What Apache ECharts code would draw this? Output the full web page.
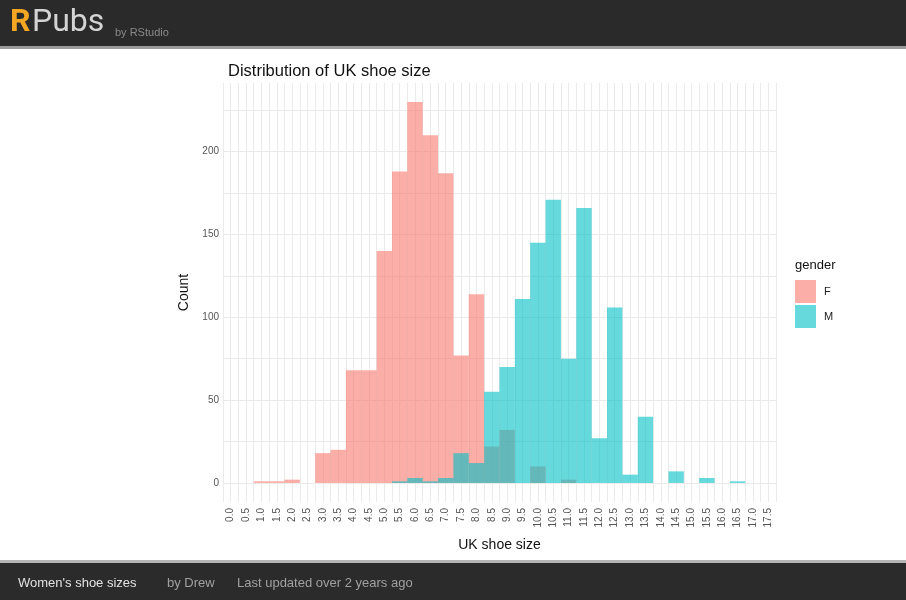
<!DOCTYPE html>
<html>
<head>
<meta charset="utf-8">
<script src="https://cdn.jsdelivr.net/npm/echarts@6/dist/echarts.min.js"></script>
<style>
html,body{margin:0;padding:0;background:#fff;}
#chart{width:906px;height:600px;}
</style>
</head>
<body>
<div id="chart"></div>
<script>
// UK shoe size bins (bin centres, width 0.5)
const categories = ['0.0','0.5','1.0','1.5','2.0','2.5','3.0','3.5','4.0','4.5','5.0','5.5','6.0','6.5','7.0','7.5','8.0','8.5','9.0','9.5','10.0','10.5','11.0','11.5','12.0','12.5','13.0','13.5','14.0','14.5','15.0','15.5','16.0','16.5','17.0','17.5'];
const femaleCounts = [0,0,1,1,2,0,18,20,68,68,140,188,230,210,187,77,114,22,32,0,10,0,2,0,0,0,0,0,0,0,0,0,0,0,0,0];
const maleCounts   = [0,0,0,0,0,0,0,0,0,0,0,1,3,1,3,18,12,55,70,111,145,171,75,166,27,106,5,40,0,7,0,3,0,1,0,0];
const yTickLabels = [0,50,100,150,200];
const yGridValues = [0,25,50,75,100,125,150,175,200,225];
const seriesNames = ['F','M'];

const chart = echarts.init(document.getElementById('chart'), null, {renderer:'canvas'});
const gridColor = '#ebebeb';
const option = {
  backgroundColor:'#ffffff',
  animation:false,
  title:{
    text:'Distribution of UK shoe size',
    left:223, top:58,
    textStyle:{fontFamily:'Liberation Sans', fontSize:16.5, fontWeight:'normal', color:'#111'}
  },
  legend:{
    orient:'vertical', left:790, top:275,
    itemWidth:21, itemHeight:23, itemGap:2,
    icon:'rect',
    data: seriesNames,
    textStyle:{fontFamily:'Liberation Sans', fontSize:11, color:'#222', padding:[0,0,0,3]}
  },
  grid:{left:223, right:130, top:83, bottom:98, containLabel:false},
  xAxis:[
    {
      type:'category', data:categories, boundaryGap:true,
      axisLine:{show:false, onZero:false}, axisTick:{show:false},
      splitLine:{show:false},
      axisLabel:{interval:0, rotate:90, margin:6, fontFamily:'Liberation Sans', fontSize:10, color:'#555'},
      name:'UK shoe size', nameLocation:'middle', nameGap:36,
      nameTextStyle:{fontFamily:'Liberation Sans', fontSize:14, color:'#111'}
    },
    {
      type:'value', min:-0.5, max:35.5, interval:0.5,
      axisLine:{show:false, onZero:false}, axisTick:{show:false}, axisLabel:{show:false},
      splitLine:{show:true, lineStyle:{color:gridColor, width:1}}
    }
  ],
  yAxis:{
    type:'value', min:-11.5, max:241.5,
    axisLine:{show:false, onZero:false},
    axisTick:{show:false, customValues:yGridValues},
    axisLabel:{customValues:yTickLabels, margin:4, fontFamily:'Liberation Sans', fontSize:10, color:'#555'},
    splitLine:{show:true, lineStyle:{color:gridColor, width:1}},
    name:'Count', nameLocation:'middle', nameGap:24, nameRotate:90,
    nameTextStyle:{fontFamily:'Liberation Sans', fontSize:14, color:'#111'}
  },
  series:[
    {
      name:'F', type:'bar', xAxisIndex:0, data:femaleCounts,
      barWidth:'100%', barGap:'-100%', barCategoryGap:0,
      itemStyle:{color:'rgba(248,118,109,0.6)'}
    },
    {
      name:'M', type:'bar', xAxisIndex:0, data:maleCounts,
      barWidth:'100%', barGap:'-100%', barCategoryGap:0,
      itemStyle:{color:'rgba(0,191,196,0.6)'}
    }
  ],
  graphic:[
    {type:'rect', left:0, top:0, shape:{width:906, height:46}, style:{fill:'#2a2a2a'}, silent:true},
    {type:'rect', left:0, top:46, shape:{width:906, height:3}, style:{fill:'#9a9a9a'}, silent:true},
    {type:'text', left:10, top:7, style:{text:'R', fill:'#f5a623', font:'bold 32px Roboto'}},
    {type:'text', left:32, top:7, style:{text:'Pubs', fill:'#d4d4d4', font:'32px Roboto'}},
    {type:'text', left:115, top:27, style:{text:'by RStudio', fill:'#8a8a8a', font:'11px "Liberation Sans"'}},
    {type:'rect', left:0, top:560, shape:{width:906, height:3}, style:{fill:'#b5b5b5'}, silent:true},
    {type:'rect', left:0, top:563, shape:{width:906, height:37}, style:{fill:'#2b2b2b'}, silent:true},
    {type:'text', left:18, top:577, style:{text:"Women's shoe sizes", fill:'#e2e2e2', font:'13px "Liberation Sans"'}},
    {type:'text', left:167, top:577, style:{text:'by Drew', fill:'#a0a0a0', font:'13px "Liberation Sans"'}},
    {type:'text', left:237, top:577, style:{text:'Last updated over 2 years ago', fill:'#a0a0a0', font:'13px "Liberation Sans"'}},
    {type:'text', left:795, top:259, style:{text:'gender', fill:'#111', font:'13px "Liberation Sans"'}}
  ]
};
chart.setOption(option);
</script>
</body>
</html>
